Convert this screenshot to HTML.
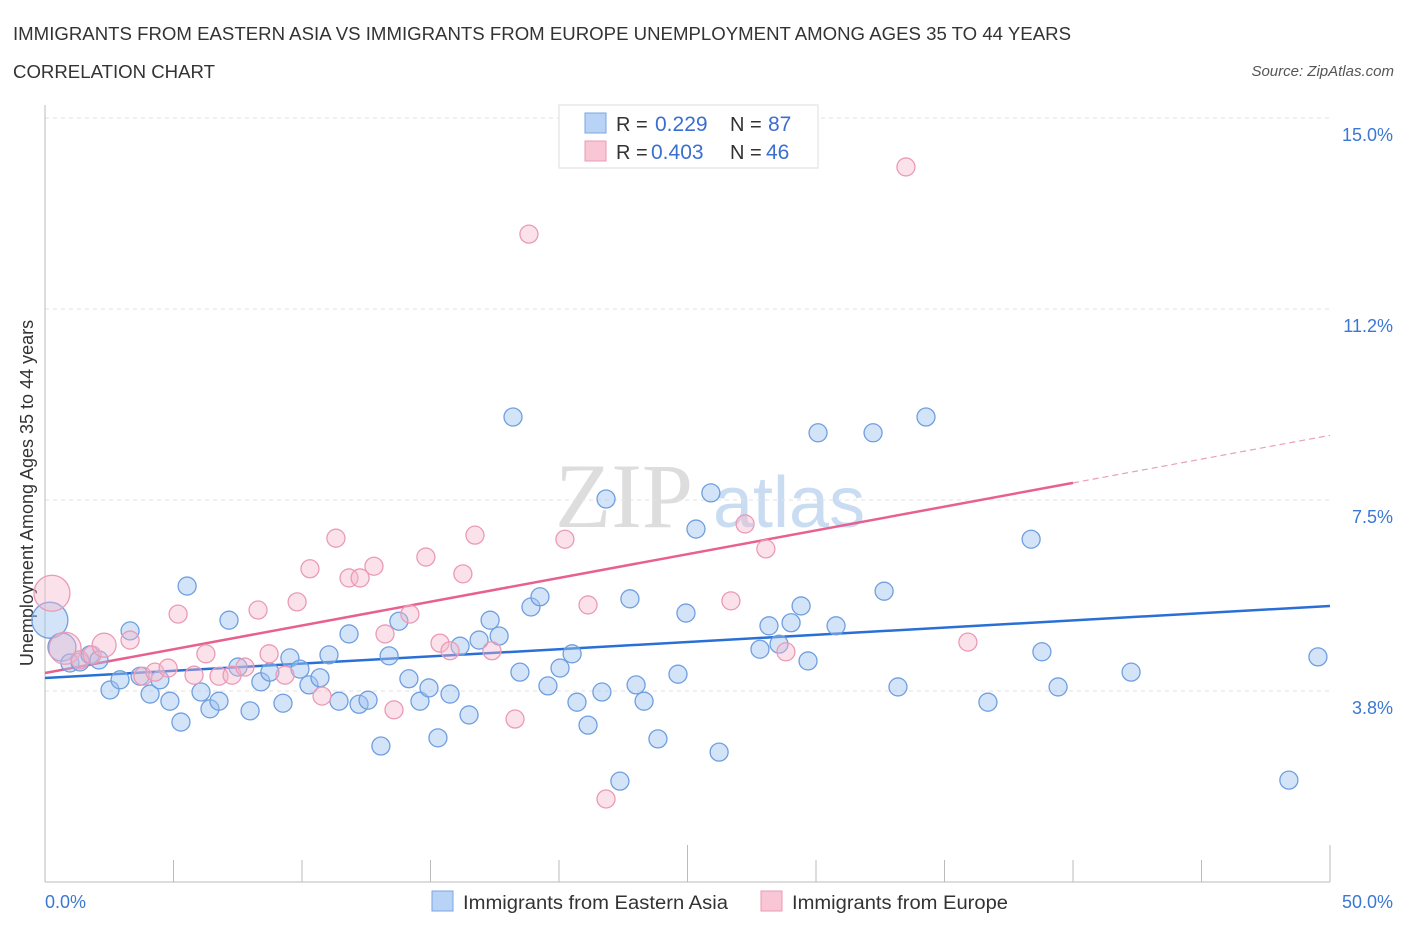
<!DOCTYPE html>
<html><head><meta charset="utf-8"><style>
body{margin:0;background:#fff;font-family:"Liberation Sans",sans-serif;}
</style></head><body>
<svg id="chart" width="1406" height="930" xmlns="http://www.w3.org/2000/svg" style="display:block;font-family:'Liberation Sans',sans-serif">
<text x="13" y="40" font-size="18" fill="#333" textLength="1058" lengthAdjust="spacingAndGlyphs">IMMIGRANTS FROM EASTERN ASIA VS IMMIGRANTS FROM EUROPE UNEMPLOYMENT AMONG AGES 35 TO 44 YEARS</text>
<text x="13" y="78" font-size="18" fill="#333" textLength="202" lengthAdjust="spacingAndGlyphs">CORRELATION CHART</text>
<text x="1394" y="76" font-size="15" fill="#555" font-style="italic" text-anchor="end">Source: ZipAtlas.com</text>
<text x="0" y="0" font-size="18" fill="#333" text-anchor="middle" transform="translate(33,493) rotate(-90)">Unemployment Among Ages 35 to 44 years</text>
<g><text x="555" y="527" font-size="92" font-family="Liberation Serif,serif" fill="#ddd">ZIP</text><text x="713" y="527" font-size="72" fill="#c9dcf2">atlas</text></g>
<g id="grid"></g><g id="axes"></g><g id="lines"></g><g id="points"></g>
<g>
<rect x="559" y="105" width="259" height="63" fill="#fff" stroke="#ddd"/>
<rect x="585" y="113" width="21" height="20" fill="#b8d3f5" stroke="#7aa6e4"/>
<rect x="585" y="141" width="21" height="20" fill="#f9c6d6" stroke="#ec9ab6"/>
<text x="616" y="131" font-size="20" fill="#333">R = </text><text x="655" y="131" font-size="21" fill="#3a6fd0">0.229</text>
<text x="730" y="131" font-size="20" fill="#333">N = </text><text x="768" y="131" font-size="21" fill="#3a6fd0">87</text>
<text x="616" y="159" font-size="20" fill="#333">R = </text><text x="651" y="159" font-size="21" fill="#3a6fd0">0.403</text>
<text x="730" y="159" font-size="20" fill="#333">N = </text><text x="766" y="159" font-size="21" fill="#3a6fd0">46</text>
</g>
<g>
<rect x="432" y="891" width="21" height="20" fill="#b8d3f5" stroke="#7aa6e4"/>
<text x="463" y="909" font-size="19" fill="#333" textLength="265" lengthAdjust="spacingAndGlyphs">Immigrants from Eastern Asia</text>
<rect x="761" y="891" width="21" height="20" fill="#f9c6d6" stroke="#ec9ab6"/>
<text x="792" y="909" font-size="19" fill="#333" textLength="216" lengthAdjust="spacingAndGlyphs">Immigrants from Europe</text>
</g>
</svg>
<script>
const yTicks=[3.75,7.5,11.25,15];
const yTickLabels=["3.8%","7.5%","11.2%","15.0%"];
const xTicks=[0,5,10,15,20,25,30,35,40,45,50];
const blueX=[0.19,0.66,0.97,1.36,1.75,2.10,2.53,2.92,3.31,3.70,4.09,4.47,4.86,5.29,5.53,6.07,6.42,6.77,7.16,7.51,7.98,8.40,8.75,9.26,9.53,9.92,10.27,10.70,11.05,11.44,11.83,12.22,12.57,13.07,13.39,13.77,14.16,14.59,14.94,15.29,15.76,16.15,16.50,16.89,17.32,17.67,18.21,18.48,18.91,19.26,19.57,20.04,20.51,20.70,21.13,21.67,21.83,22.37,22.76,23.00,23.31,23.85,24.63,24.94,25.33,25.91,26.23,27.82,28.17,28.56,29.03,29.42,29.69,30.08,30.78,32.22,32.65,33.19,34.28,36.69,38.37,38.79,39.42,42.26,48.40,49.53];
const blueY=[5.14,4.61,4.30,4.32,4.46,4.36,3.77,3.97,4.93,4.04,3.69,3.97,3.55,3.14,5.81,3.73,3.40,3.55,5.14,4.22,3.36,3.93,4.12,3.51,4.40,4.18,3.87,4.01,4.46,3.55,4.87,3.49,3.57,2.67,4.44,5.12,3.99,3.55,3.81,2.83,3.69,4.63,3.28,4.75,5.14,4.83,9.13,4.12,5.40,5.60,3.85,4.20,4.48,3.53,3.08,3.73,7.52,1.98,5.56,3.87,3.55,2.81,4.08,5.28,6.93,7.64,2.55,4.57,5.03,4.67,5.09,5.42,4.34,8.82,5.03,8.82,5.71,3.83,9.13,3.53,6.73,4.52,3.83,4.12,2.00,4.42];
const blueR=[18,14];
const pinkX=[0.27,0.78,1.36,1.83,2.30,3.31,3.81,4.28,4.79,5.18,5.80,6.26,6.77,7.28,7.78,8.29,8.72,9.34,9.81,10.31,10.78,11.32,11.83,12.26,12.80,13.23,13.58,14.20,14.82,15.37,15.76,16.26,16.73,17.39,18.29,18.83,20.23,21.13,21.83,26.69,27.24,28.05,28.83,33.50,35.91];
const pinkY=[5.67,4.59,4.36,4.46,4.65,4.75,4.04,4.12,4.20,5.26,4.06,4.48,4.04,4.06,4.22,5.34,4.48,4.06,5.50,6.15,3.65,6.75,5.97,5.97,6.20,4.87,3.38,5.26,6.38,4.69,4.54,6.05,6.81,4.54,3.20,12.72,6.73,5.44,1.63,5.52,7.03,6.54,4.52,14.04,4.71];
const pinkR=[18,16,9,9,12];
const blueTrend=[4.005,5.419];
const pinkTrend=[4.103,8.77];
const pinkSolidEnd=40;

const NS="http://www.w3.org/2000/svg";
const X=v=>45+v*25.7;
const Y=v=>691-(v-3.75)*50.93;
function mk(tag,attrs,parent){const e=document.createElementNS(NS,tag);for(const k in attrs)e.setAttribute(k,attrs[k]);document.getElementById(parent).appendChild(e);return e;}
yTicks.forEach((t,i)=>{
  const g=mk('line',{x1:45,x2:1330,y1:Y(t),y2:Y(t),stroke:'#e2e2e2','stroke-dasharray':'4,4'},'grid');
  
  
  const l=mk('text',{x:1393,y:Y(t)+23,'font-size':18,fill:'#3a78d4','text-anchor':'end'},'grid');
  l.textContent=yTickLabels[i];
  
  
});
const ya=mk('line',{x1:45,x2:45,y1:105,y2:882,stroke:'#bbb'},'axes');


const xa=mk('line',{x1:45,x2:1330,y1:882,y2:882,stroke:'#bbb'},'axes');


xTicks.forEach((t,i)=>{
  const tk=mk('line',{x1:X(t),x2:X(t),y1:(i%5==0)?845:860,y2:882,stroke:'#bbb'},'axes');
  
  
});
const xl0=mk('text',{x:45,y:908,'font-size':18,fill:'#3a78d4'},'axes');xl0.textContent='0.0%';


const xl1=mk('text',{x:1393,y:908,'font-size':18,fill:'#3a78d4','text-anchor':'end'},'axes');xl1.textContent='50.0%';



function pts(xs,ys,rs,fill,stroke,name){xs.forEach((x,i)=>{
  const c=mk('circle',{cx:X(x),cy:Y(ys[i]),r:rs[i]||9,fill:fill,stroke:stroke,'stroke-width':1.3},'points');
  
  
});}
pts(blueX,blueY,blueR,'rgba(160,196,240,0.45)','#6f9fe0','point-eastern-asia');
pts(pinkX,pinkY,pinkR,'rgba(246,182,202,0.4)','#eb9ab6','point-europe');
const bl=mk('line',{x1:X(0),y1:Y(blueTrend[0]),x2:X(50),y2:Y(blueTrend[1]),stroke:'#2a6fd6','stroke-width':2.5},'lines');


const pm=pinkTrend[0]+(pinkTrend[1]-pinkTrend[0])*pinkSolidEnd/50;
const pl=mk('line',{x1:X(0),y1:Y(pinkTrend[0]),x2:X(pinkSolidEnd),y2:Y(pm),stroke:'#e8608e','stroke-width':2.5},'lines');


const pd=mk('line',{x1:X(pinkSolidEnd),y1:Y(pm),x2:X(50),y2:Y(pinkTrend[1]),stroke:'#e8a0b8','stroke-width':1.2,'stroke-dasharray':'6,4'},'lines');


</script>
</body></html>
